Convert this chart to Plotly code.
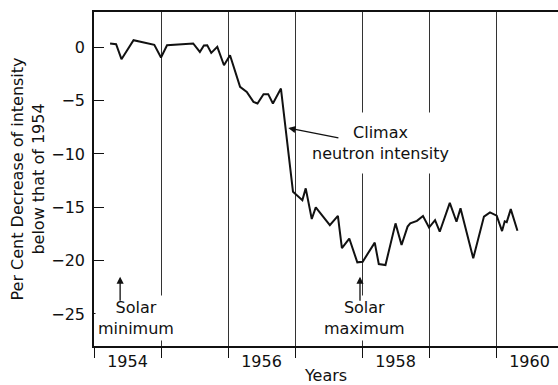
import plotly.graph_objects as go

# ---- data ----
years = [1954.24, 1954.33, 1954.41, 1954.59, 1954.90, 1955.00, 1955.09, 1955.48,
         1955.58, 1955.64, 1955.69, 1955.75, 1955.84, 1955.94, 1956.03, 1956.18,
         1956.28, 1956.38, 1956.44, 1956.53, 1956.60, 1956.67, 1956.79, 1956.97,
         1957.11, 1957.16, 1957.25, 1957.31, 1957.52, 1957.64, 1957.70, 1957.81,
         1957.93, 1958.01, 1958.19, 1958.25, 1958.35, 1958.50, 1958.59, 1958.68,
         1958.72, 1958.82, 1958.91, 1959.00, 1959.09, 1959.16, 1959.31, 1959.41,
         1959.47, 1959.59, 1959.66, 1959.82, 1959.91, 1960.01, 1960.09, 1960.13,
         1960.16, 1960.22, 1960.32]
decrease = [0.35, 0.28, -1.12, 0.66, 0.22, -0.96, 0.19, 0.35,
            -0.44, 0.16, 0.19, -0.53, 0.03, -1.69, -0.75, -3.72,
            -4.19, -5.12, -5.27, -4.40, -4.40, -5.27, -3.87, -13.55,
            -14.33, -13.23, -16.10, -15.01, -16.67, -15.80, -18.82, -17.93,
            -20.16, -20.10, -18.31, -20.32, -20.41, -16.51, -18.54, -16.81,
            -16.51, -16.27, -15.82, -16.90, -16.20, -17.29, -14.58, -16.36,
            -15.10, -18.16, -19.78, -15.87, -15.48, -15.78, -17.23, -16.31,
            -16.39, -15.17, -17.20]

year_bounds = [1954, 1955, 1956, 1957, 1958, 1959, 1960]
label_pos = [1954.5, 1956.5, 1958.5, 1960.5]
label_text = ["1954", "1956", "1958", "1960"]
y_ticks = [0, -5, -10, -15, -20, -25]
y_ticktext = ["0", "\u22125", "\u221210", "\u221215", "\u221220", "\u221225"]

FONT = "DejaVu Sans"
INK = "#111111"

fig = go.Figure()
fig.add_trace(go.Scatter(x=years, y=decrease, mode="lines",
                         line=dict(color=INK, width=2), showlegend=False,
                         hoverinfo="skip"))

fig.update_layout(
    width=558, height=385,
    margin=dict(l=94, r=0, t=12, b=39),
    paper_bgcolor="white", plot_bgcolor="white",
    font=dict(family=FONT, size=16, color=INK),
    xaxis=dict(
        range=[1954, 1960.925], automargin=False,
        tickmode="array", tickvals=label_pos, ticktext=label_text,
        ticks="", showgrid=False, zeroline=False,
        showline=True, linecolor=INK, linewidth=1.5, mirror=True,
        tickfont=dict(size=16),
        minor=dict(tickmode="array", tickvals=year_bounds, ticks="outside",
                   ticklen=10, tickcolor=INK, tickwidth=1,
                   showgrid=True, gridcolor="#333333", gridwidth=1),
        title=dict(text="Years", font=dict(size=16), standoff=2),
    ),
    yaxis=dict(
        range=[-28.0, 3.3], automargin=False,
        tickmode="array", tickvals=y_ticks, ticktext=y_ticktext,
        ticks="inside", ticklen=10, tickcolor=INK, tickwidth=1,
        showgrid=False, zeroline=False,
        showline=True, linecolor=INK, linewidth=1.5,
        tickfont=dict(size=16), ticklabelstandoff=4,
        title=dict(text="Per Cent Decrease of intensity<br>below that of 1954",
                   font=dict(size=16), standoff=3),
    ),
)

# text annotations with white backgrounds (they interrupt the grid lines)
fig.add_annotation(x=1958.28, y=-8.99, text="Climax<br>neutron intensity",
                   showarrow=False, bgcolor="white", borderpad=10,
                   font=dict(size=16), align="center")
fig.add_annotation(x=1954.63, y=-25.37, text="Solar<br>minimum",
                   showarrow=False, bgcolor="white", borderpad=2,
                   font=dict(size=16), align="center")
fig.add_annotation(x=1958.03, y=-25.37, text="Solar<br>maximum",
                   showarrow=False, bgcolor="white", borderpad=2,
                   font=dict(size=16), align="center")

# arrows
arrow_style = dict(showarrow=True, arrowhead=2, arrowsize=1.1, arrowwidth=1.3,
                   arrowcolor=INK, axref="x", ayref="y", text="")
fig.add_annotation(x=1956.90, y=-7.58, ax=1957.67, ay=-8.52, **arrow_style)
fig.add_annotation(x=1954.39, y=-21.5, ax=1954.39, ay=-23.9, **arrow_style)
fig.add_annotation(x=1957.97, y=-21.5, ax=1957.97, ay=-23.9, **arrow_style)

fig.write_html("out.html",
               config={"displayModeBar": False},
               post_script="document.body.style.margin='0px';"
                           "document.body.style.overflow='hidden';")
